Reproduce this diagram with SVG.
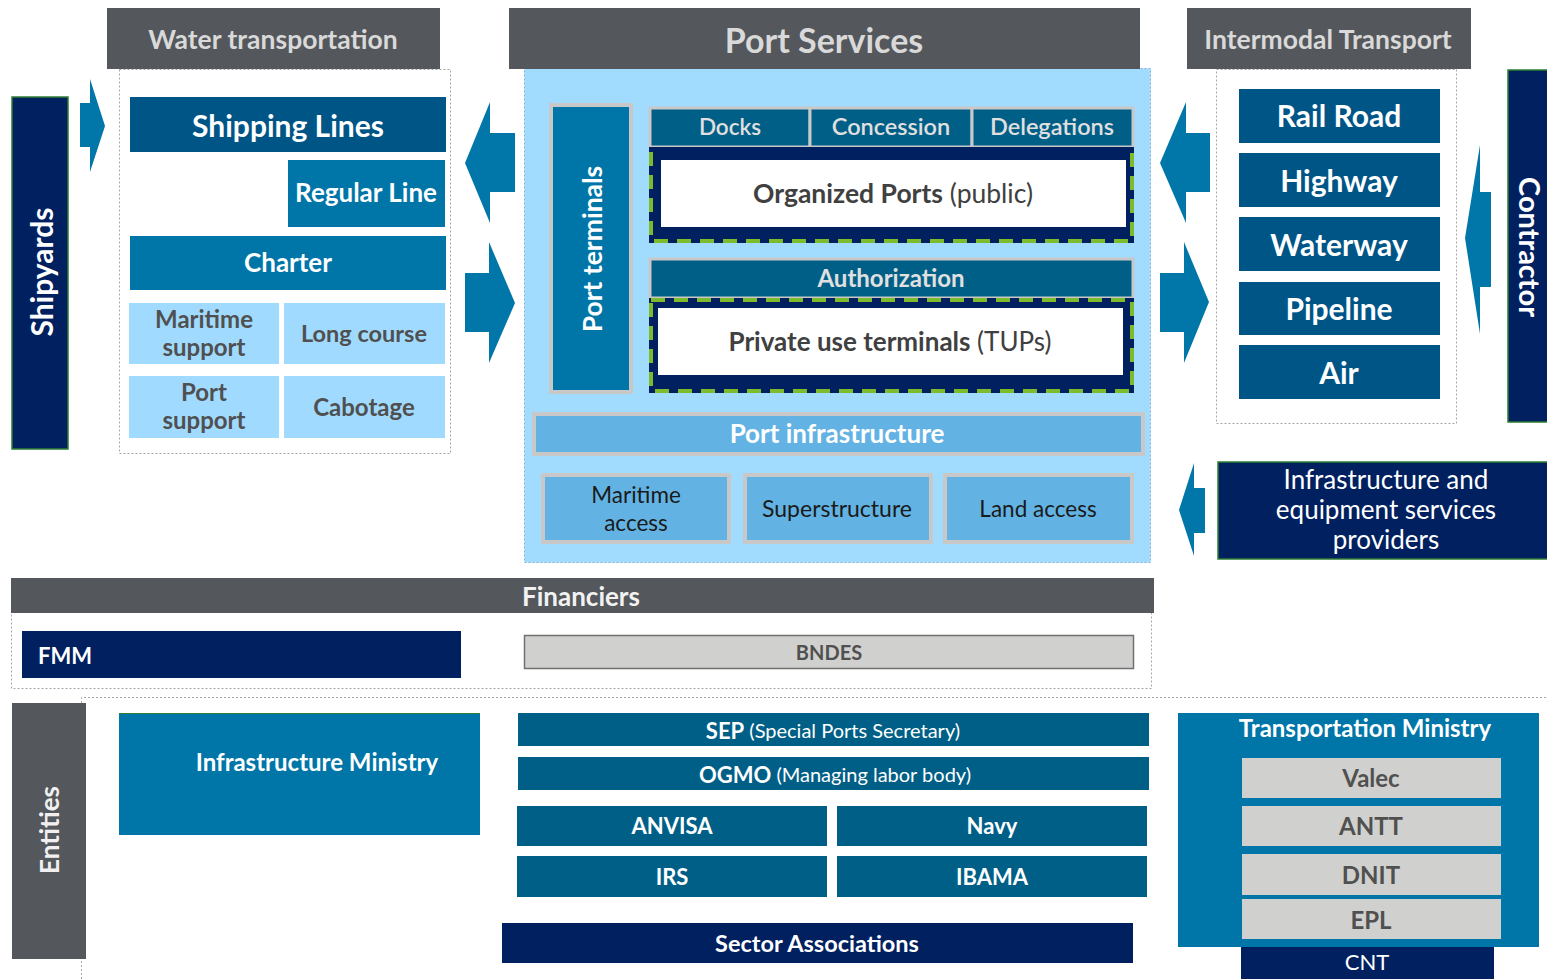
<svg xmlns="http://www.w3.org/2000/svg" width="1547" height="979" viewBox="0 0 1547 979">
  <style>
    text { font-family: Lato, "Open Sans", "Liberation Sans", sans-serif; text-anchor: middle; dominant-baseline: central; }
    .hdr { fill: #54575b; }
    .hdrt { fill: #d9d9d9; font-weight: 700; }
    .dash { fill: none; stroke: #a6a6a6; stroke-width: 1; stroke-dasharray: 2 2; }
    .navy { fill: #002060; }
    .navyg { fill: #002060; stroke: #2e7d32; stroke-width: 1.5; }
    .deep { fill: #005587; }
    .mid { fill: #0075a8; }
    .teal { fill: #005f87; }
    .teals { fill: #005f87; stroke: #c8c8c8; stroke-width: 3; }
    .pale { fill: #a0dbff; }
    .sky { fill: #62b3e3; stroke: #c8c8c8; stroke-width: 4; }
    .grey { fill: #d0d0ce; }
    .wb { fill: #ffffff; font-weight: 700; }
    .wr { fill: #ffffff; font-weight: 400; }
    .gb { fill: #505050; font-weight: 700; }
    .dk { fill: #1a1a1a; font-weight: 400; }
    .green { fill: none; stroke: #7dbb2c; stroke-width: 4; stroke-dasharray: 14 9; }
    .arrow { fill: #0077a8; }
  </style>

  <!-- Water transportation -->
  <g id="water-transportation">
    <rect class="dash" x="119.5" y="69.5" width="331" height="384"/>
    <rect class="hdr" x="107" y="8" width="333" height="61"/>
    <text class="hdrt" x="273" y="39" font-size="26.5">Water transportation</text>
  </g>
  <g id="shipping-lines">
    <rect class="deep" x="130" y="97" width="316" height="55"/>
    <text class="wb" x="288" y="125" font-size="30">Shipping Lines</text>
  </g>
  <g id="regular-line">
    <rect class="mid" x="288" y="160" width="157" height="67"/>
    <text class="wb" x="366" y="192" font-size="26">Regular Line</text>
  </g>
  <g id="charter">
    <rect class="mid" x="130" y="236" width="316" height="54"/>
    <text class="wb" x="288" y="262" font-size="26">Charter</text>
  </g>
  <g id="maritime-support">
    <rect class="pale" x="129" y="303" width="150" height="61"/>
    <text class="gb" x="204" y="318" font-size="24">Maritime</text>
    <text class="gb" x="204" y="346" font-size="24">support</text>
  </g>
  <g id="long-course">
    <rect class="pale" x="284" y="303" width="161" height="61"/>
    <text class="gb" x="364" y="333" font-size="23.5">Long course</text>
  </g>
  <g id="port-support">
    <rect class="pale" x="129" y="376" width="150" height="62"/>
    <text class="gb" x="204" y="391" font-size="24">Port</text>
    <text class="gb" x="204" y="419" font-size="24">support</text>
  </g>
  <g id="cabotage">
    <rect class="pale" x="284" y="376" width="161" height="62"/>
    <text class="gb" x="364" y="406" font-size="24">Cabotage</text>
  </g>

  <!-- Shipyards -->
  <g id="shipyards">
    <rect class="navyg" x="12" y="97" width="56" height="352"/>
    <text class="wb" font-size="30" transform="translate(41 272) rotate(-90)">Shipyards</text>
  </g>

  <!-- Port services -->
  <g id="port-services">
    <rect x="524.5" y="68.5" width="626" height="494" fill="#a1dcff" stroke="#7fb4d6" stroke-width="1" stroke-dasharray="2 2"/>
    <rect class="hdr" x="509" y="8" width="631" height="61"/>
    <text class="hdrt" x="824" y="39" font-size="34">Port Services</text>
  </g>
  <g id="port-terminals">
    <rect x="551" y="105" width="80" height="287" fill="#0075a8" stroke="#c8c8c8" stroke-width="4"/>
    <text class="wb" font-size="26.5" transform="translate(592 249) rotate(-90)">Port terminals</text>
  </g>
  <g id="docks-concession-delegations">
    <rect class="teals" x="650" y="108" width="160" height="39"/>
    <rect class="teals" x="810" y="108" width="162" height="39"/>
    <rect class="teals" x="972" y="108" width="161" height="39"/>
    <text x="730" y="126" font-size="22.5" font-weight="600" fill="#e0e0e0">Docks</text>
    <text x="891" y="126" font-size="23.5" font-weight="600" fill="#e0e0e0">Concession</text>
    <text x="1052" y="126" font-size="23.5" font-weight="600" fill="#e0e0e0">Delegations</text>
  </g>
  <g id="organized-ports">
    <rect class="navy" x="649" y="147" width="485" height="96"/>
    <rect x="661" y="160" width="465" height="67" fill="#ffffff"/>
    <path class="green" d="M651 152 V241 H1132 V152"/>
    <text x="893" y="193" font-size="26.5" fill="#404040"><tspan font-weight="700">Organized Ports</tspan><tspan font-weight="400"> (public)</tspan></text>
  </g>
  <g id="authorization">
    <rect class="teals" x="650" y="259" width="483" height="39"/>
    <text x="891" y="277" font-size="24" font-weight="700" fill="#e0e0e0">Authorization</text>
  </g>
  <g id="private-use-terminals">
    <rect class="navy" x="649" y="298" width="485" height="95"/>
    <rect x="658" y="308" width="465" height="67" fill="#ffffff"/>
    <rect class="green" x="651" y="300" width="481" height="91"/>
    <text x="890" y="341" font-size="26" fill="#404040"><tspan font-weight="700">Private use terminals</tspan><tspan font-weight="400"> (TUPs)</tspan></text>
  </g>
  <g id="port-infrastructure">
    <rect class="sky" x="534" y="414" width="609" height="40"/>
    <text class="wb" x="837" y="433" font-size="26">Port infrastructure</text>
  </g>
  <g id="maritime-access">
    <rect class="sky" x="543" y="475" width="186" height="67"/>
    <text class="dk" x="636" y="494" font-size="22.5">Maritime</text>
    <text class="dk" x="636" y="522" font-size="22.5">access</text>
  </g>
  <g id="superstructure">
    <rect class="sky" x="745" y="475" width="186" height="67"/>
    <text class="dk" x="837" y="508" font-size="23">Superstructure</text>
  </g>
  <g id="land-access">
    <rect class="sky" x="945" y="475" width="187" height="67"/>
    <text class="dk" x="1038" y="508" font-size="22.5">Land access</text>
  </g>

  <!-- Intermodal transport -->
  <g id="intermodal-transport">
    <rect class="dash" x="1216.5" y="69.5" width="240" height="354"/>
    <rect class="hdr" x="1187" y="8" width="284" height="61"/>
    <text class="hdrt" x="1328" y="39" font-size="26.5">Intermodal Transport</text>
  </g>
  <g id="rail-road">
    <rect class="deep" x="1239" y="89" width="201" height="54"/>
    <text class="wb" x="1339" y="115" font-size="30">Rail Road</text>
  </g>
  <g id="highway">
    <rect class="deep" x="1239" y="153" width="201" height="54"/>
    <text class="wb" x="1339" y="180" font-size="30">Highway</text>
  </g>
  <g id="waterway">
    <rect class="deep" x="1239" y="217" width="201" height="54"/>
    <text class="wb" x="1339" y="244" font-size="30">Waterway</text>
  </g>
  <g id="pipeline">
    <rect class="deep" x="1239" y="282" width="201" height="53"/>
    <text class="wb" x="1339" y="308" font-size="30">Pipeline</text>
  </g>
  <g id="air">
    <rect class="deep" x="1239" y="345" width="201" height="54"/>
    <text class="wb" x="1339" y="372" font-size="30">Air</text>
  </g>

  <!-- Contractor -->
  <g id="contractor">
    <rect class="navyg" x="1508" y="70" width="45" height="352"/>
    <text class="wb" font-size="29" transform="translate(1530 247) rotate(90)">Contractor</text>
  </g>

  <!-- Service providers -->
  <g id="infrastructure-providers">
    <rect class="navyg" x="1218" y="462" width="335" height="97"/>
    <text class="wr" x="1386" y="479" font-size="26">Infrastructure and</text>
    <text class="wr" x="1386" y="509" font-size="26">equipment services</text>
    <text class="wr" x="1386" y="539" font-size="26">providers</text>
  </g>

  <!-- Financiers -->
  <g id="financiers">
    <rect class="dash" x="11.5" y="612.5" width="1140" height="76"/>
    <rect class="hdr" x="11" y="578" width="1143" height="35"/>
    <text x="581" y="596" font-size="26" font-weight="700" fill="#f2f2f2">Financiers</text>
  </g>
  <g id="fmm">
    <rect class="navy" x="22" y="631" width="439" height="47"/>
    <text class="wb" x="38" y="655" font-size="22" style="text-anchor:start">FMM</text>
  </g>
  <g id="bndes">
    <rect class="grey" x="524.5" y="635.5" width="609" height="33" stroke="#707070" stroke-width="1.5"/>
    <text class="gb" x="829" y="652" font-size="20">BNDES</text>
  </g>

  <!-- Entities -->
  <g id="entities">
    <path class="dash" d="M81.5 979 V697.5 H1547"/>
    <rect class="hdr" x="12" y="703" width="74" height="256"/>
    <text font-size="26" font-weight="700" fill="#f0f0f0" transform="translate(49 830) rotate(-90)">Entities</text>
  </g>
  <g id="infrastructure-ministry">
    <rect class="mid" x="119" y="713" width="361" height="122"/>
    <line x1="119" y1="713.5" x2="480" y2="713.5" stroke="#2e7d32" stroke-width="1"/>
    <text class="wb" x="317" y="761" font-size="24">Infrastructure Ministry</text>
  </g>
  <g id="sep">
    <rect class="teal" x="518" y="713" width="631" height="33"/>
    <text class="wr" x="833" y="730" font-size="20"><tspan font-weight="700" font-size="22">SEP</tspan> (Special Ports  Secretary)</text>
  </g>
  <g id="ogmo">
    <rect class="teal" x="518" y="757" width="631" height="33"/>
    <text class="wr" x="835" y="774" font-size="20"><tspan font-weight="700" font-size="22">OGMO</tspan> (Managing labor body)</text>
  </g>
  <g id="anvisa">
    <rect class="teal" x="517" y="806" width="310" height="40"/>
    <text class="wb" x="672" y="825" font-size="22">ANVISA</text>
  </g>
  <g id="navy">
    <rect class="teal" x="837" y="806" width="310" height="40"/>
    <text class="wb" x="992" y="825" font-size="22">Navy</text>
  </g>
  <g id="irs">
    <rect class="teal" x="517" y="856" width="310" height="41"/>
    <text class="wb" x="672" y="876" font-size="22">IRS</text>
  </g>
  <g id="ibama">
    <rect class="teal" x="837" y="856" width="310" height="41"/>
    <text class="wb" x="992" y="876" font-size="22">IBAMA</text>
  </g>
  <g id="sector-associations">
    <rect class="navy" x="502" y="923" width="631" height="40"/>
    <text class="wb" x="817" y="943" font-size="23.5">Sector Associations</text>
  </g>
  <g id="transportation-ministry">
    <rect class="mid" x="1178" y="713" width="361" height="234"/>
    <text class="wb" x="1365" y="727" font-size="24">Transportation Ministry</text>
  </g>
  <g id="valec">
    <rect class="grey" x="1242" y="758" width="259" height="40"/>
    <text class="gb" x="1371" y="777" font-size="24">Valec</text>
  </g>
  <g id="antt">
    <rect class="grey" x="1242" y="806" width="259" height="40"/>
    <text class="gb" x="1371" y="825" font-size="24">ANTT</text>
  </g>
  <g id="dnit">
    <rect class="grey" x="1242" y="854" width="259" height="41"/>
    <text class="gb" x="1371" y="874" font-size="24">DNIT</text>
  </g>
  <g id="epl">
    <rect class="grey" x="1242" y="899" width="259" height="40"/>
    <text class="gb" x="1371" y="919" font-size="24">EPL</text>
  </g>
  <g id="cnt">
    <rect class="navy" x="1241" y="947" width="253" height="32"/>
    <text class="wr" x="1367" y="961" font-size="22">CNT</text>
  </g>

  <!-- Block arrows between groups -->
  <g id="connectors">
    <polygon class="arrow" points="80,103 90,103 90,79 105,126 90,172 90,147 80,147"/>
    <polygon class="arrow" points="515,133 490,133 490,102 465,163 490,223 490,192 515,192"/>
    <polygon class="arrow" points="465,273 489,273 489,242 515,303 489,363 489,332 465,332"/>
    <polygon class="arrow" points="1210,133 1186,133 1186,102 1160,163 1186,223 1186,192 1210,192"/>
    <polygon class="arrow" points="1160,273 1184,273 1184,242 1209,302 1184,363 1184,332 1160,332"/>
    <polygon class="arrow" points="1491,192 1480,192 1480,145 1465,238 1480,334 1480,287 1491,287"/>
    <polygon class="arrow" points="1205,488 1194,488 1194,463 1179,510 1194,556 1194,533 1205,533"/>
  </g>
</svg>
